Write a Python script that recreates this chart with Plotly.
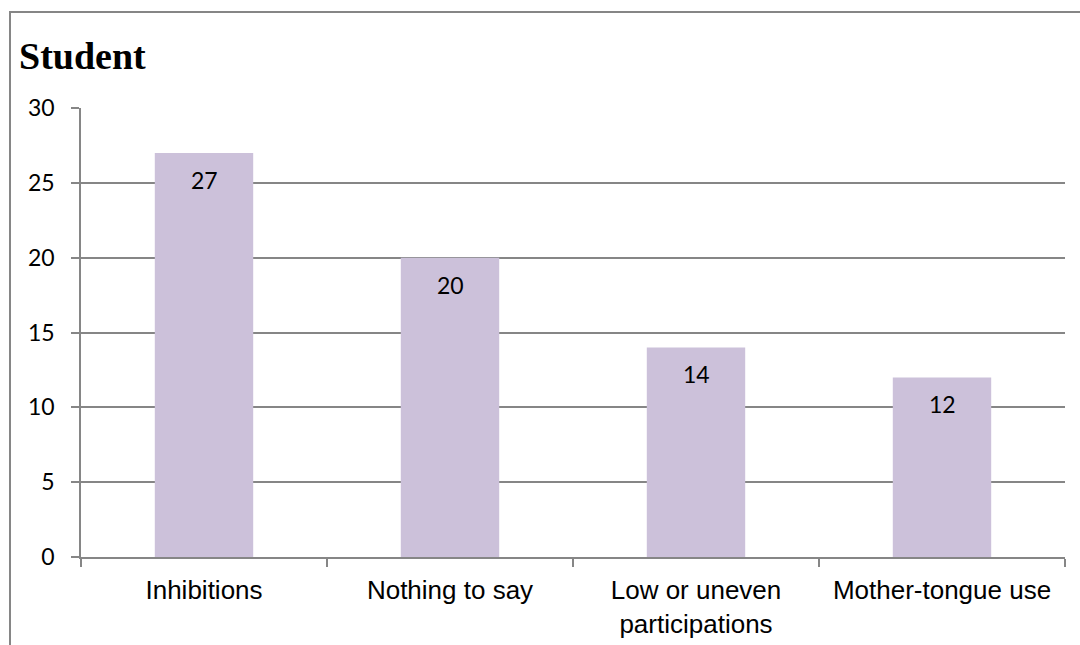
import plotly.graph_objects as go

categories = ["Inhibitions", "Nothing to say", "Low or uneven<br>participations", "Mother-tongue use"]
values = [27, 20, 14, 12]
y_ticks = [0, 5, 10, 15, 20, 25, 30]
title_text = "Student"

BAR = "#CCC1DA"
GRID = "#868686"

W, H = 1080, 645
ml, mr, mt, mb = 81, 15, 108, 88
pw = W - ml - mr
ph = H - mt - mb

fig = go.Figure()
fig.add_trace(go.Bar(x=categories, y=values, marker=dict(color=BAR, line=dict(width=0)),
                     hoverinfo="skip"))

for c, v in zip(categories, values):
    fig.add_annotation(x=c, y=v, text=str(v), showarrow=False, yanchor="top", yshift=-11,
                       font=dict(family="Lato", size=23, color="#000000"))

# outer chart border (extends past the right and bottom edges)
def px2x(px):
    return (px - ml) / pw

def px2y(py):
    return (H - mb - py) / ph

fig.add_shape(type="rect", xref="paper", yref="paper",
              x0=px2x(10), x1=px2x(1250), y0=px2y(800), y1=px2y(12),
              line=dict(color=GRID, width=2), fillcolor="rgba(0,0,0,0)", layer="below")

fig.update_layout(
    width=W, height=H,
    margin=dict(l=ml, r=mr, t=mt, b=mb),
    paper_bgcolor="white", plot_bgcolor="white",
    bargap=0.6,
    showlegend=False,
    title=dict(text="<b>" + title_text + "</b>", x=19 / W, xanchor="left", xref="container",
               y=1 - 69 / H, yanchor="bottom", yref="container",
               font=dict(family="Liberation Serif", size=38, color="#000000")),
)

fig.update_xaxes(showline=True, linecolor=GRID, linewidth=1.5, automargin=False,
                 ticks="outside", tickson="boundaries", ticklen=8, tickcolor=GRID, tickwidth=1.5,
                 ticklabelstandoff=9,
                 tickfont=dict(family="Liberation Sans", size=26, color="#000000"),
                 showgrid=False)
fig.update_yaxes(range=[0, 30], tickvals=y_ticks, showline=True, linecolor=GRID, linewidth=1.5,
                 automargin=False,
                 ticks="outside", ticklen=8, tickcolor=GRID, tickwidth=1.5,
                 showgrid=True, gridcolor=GRID, gridwidth=1.5, zeroline=False,
                 ticklabelstandoff=12,
                 tickfont=dict(family="Lato", size=23, color="#000000"))

fig.write_html("out.html")
